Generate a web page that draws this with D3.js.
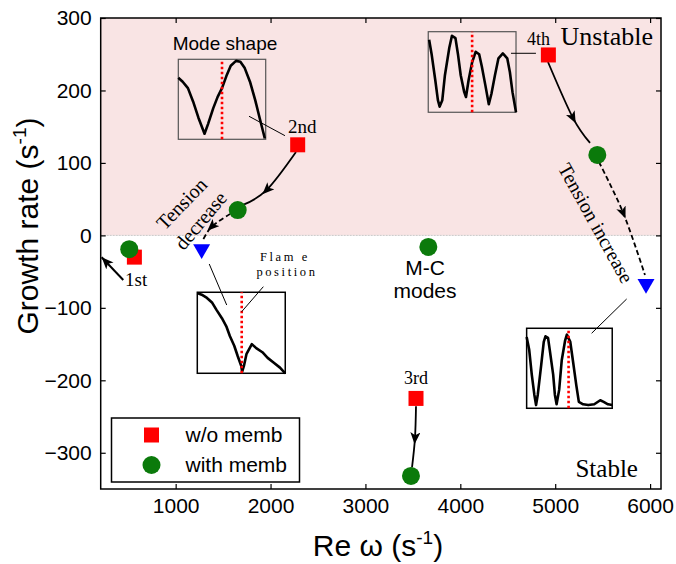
<!DOCTYPE html>
<html>
<head>
<meta charset="utf-8">
<script src="https://cdn.jsdelivr.net/npm/d3@7"></script>
<style>
  body { margin: 0; background: #fff; }
  svg { display: block; }
</style>
</head>
<body>
<svg width="676" height="564"></svg>
<script>
// axis ticks
const xTicks = [1000, 2000, 3000, 4000, 5000, 6000];
const yTicks = [-300, -200, -100, 0, 100, 200, 300];

// eigenvalues: Re omega (1/s), growth rate (1/s)
const woMemb = [
  { mode: '1st', re: 565, gr: -30 },
  { mode: '2nd', re: 2286, gr: 125 },
  { mode: '3rd', re: 3533, gr: -225 },
  { mode: '4th', re: 4928, gr: 249 }
];
const withMemb = [
  { re: 511, gr: -19 },
  { re: 1654, gr: 35 },
  { re: 3480, gr: -332 },
  { re: 5444, gr: 111 },
  { re: 3663, gr: -16 }   // M-C mode
];
const lowTension = [
  { re: 1274, gr: -19 },
  { re: 5957, gr: -67 }
];

// mode shape curves, normalised inside each inset box
const shape2nd = [[0,0.77],[0.05,0.72],[0.11,0.64],[0.17,0.47],[0.23,0.27],[0.30,0.07],[0.34,0.19],[0.40,0.39],[0.45,0.53],[0.50,0.64],[0.55,0.79],[0.60,0.92],[0.66,0.98],[0.71,0.97],[0.76,0.89],[0.82,0.72],[0.88,0.49],[0.93,0.27],[0.99,0.01]];
const shape4th = [[0.01,0.90],[0.04,0.71],[0.08,0.40],[0.11,0.15],[0.13,0.07],[0.16,0.15],[0.19,0.46],[0.24,0.80],[0.27,0.95],[0.31,0.92],[0.34,0.71],[0.37,0.46],[0.41,0.25],[0.43,0.19],[0.46,0.40],[0.50,0.62],[0.54,0.75],[0.58,0.72],[0.61,0.57],[0.65,0.34],[0.69,0.10],[0.72,0.23],[0.76,0.46],[0.80,0.67],[0.85,0.73],[0.90,0.67],[0.93,0.50],[0.96,0.25],[1.00,0.00]];
const shapeLow2nd = [[0,0.99],[0.05,0.97],[0.11,0.93],[0.17,0.87],[0.22,0.78],[0.28,0.68],[0.33,0.58],[0.37,0.46],[0.42,0.34],[0.46,0.21],[0.50,0.09],[0.51,0.02],[0.53,0.09],[0.56,0.24],[0.62,0.36],[0.67,0.31],[0.74,0.26],[0.80,0.19],[0.87,0.13],[0.94,0.07],[1.00,0.00]];
const shapeLow4th = [[0,0.89],[0.03,0.73],[0.06,0.42],[0.09,0.17],[0.11,0.04],[0.13,0.17],[0.17,0.54],[0.20,0.83],[0.22,0.90],[0.25,0.88],[0.27,0.73],[0.31,0.42],[0.33,0.17],[0.35,0.05],[0.38,0.23],[0.41,0.60],[0.45,0.85],[0.47,0.92],[0.51,0.83],[0.54,0.60],[0.58,0.29],[0.61,0.08],[0.66,0.05],[0.72,0.04],[0.79,0.05],[0.86,0.10],[0.90,0.08],[0.95,0.05],[1.00,0.04]];

const svg = d3.select('svg');
const W = 676, H = 564;
const margin = { left: 100.7, right: 15, top: 18, bottom: 75 };

const x = d3.scaleLinear().domain([210, 6115]).range([margin.left, W - margin.right]);
const y = d3.scaleLinear().domain([-350, 300]).range([H - margin.bottom, margin.top]);

const serif = '"Liberation Serif", "Times New Roman", serif';
const sans = '"Liberation Sans", Arial, sans-serif';

// unstable region
svg.append('rect')
  .attr('x', x.range()[0]).attr('y', y(300))
  .attr('width', x.range()[1] - x.range()[0]).attr('height', y(0) - y(300))
  .attr('fill', '#f9e4e4');
svg.append('line')
  .attr('x1', x.range()[0]).attr('x2', x.range()[1])
  .attr('y1', y(0)).attr('y2', y(0))
  .attr('stroke', '#c8c8c8').attr('stroke-width', 1).attr('stroke-dasharray', '2,1');

// arrow markers
const defs = svg.append('defs');
defs.append('marker').attr('id', 'headMid')
  .attr('viewBox', '0 0 12 10').attr('refX', 6).attr('refY', 5)
  .attr('markerWidth', 12).attr('markerHeight', 10)
  .attr('markerUnits', 'userSpaceOnUse').attr('orient', 'auto')
  .append('path').attr('d', 'M0,0 L12,5 L0,10 L3,5 Z').attr('fill', '#000');
defs.append('marker').attr('id', 'headEnd')
  .attr('viewBox', '0 0 12 10').attr('refX', 12).attr('refY', 5)
  .attr('markerWidth', 12).attr('markerHeight', 10)
  .attr('markerUnits', 'userSpaceOnUse').attr('orient', 'auto')
  .append('path').attr('d', 'M0,0 L12,5 L0,10 L3,5 Z').attr('fill', '#000');

// insets with mode shapes
const insets = [
  { re0: 1028, re1: 1949, gr0: 132.6, gr1: 243.0, pts: shape2nd, flame: 0.50, box: '#555', bw: 1.2 },
  { re0: 3662, re1: 4587, gr0: 169.9, gr1: 281.1, pts: shape4th, flame: 0.50, box: '#555', bw: 1.2 },
  { re0: 1228, re1: 2155, gr0: -190.3, gr1: -78.5, pts: shapeLow2nd, flame: 0.505, box: '#000', bw: 1.5 },
  { re0: 4699, re1: 5601, gr0: -238.6, gr1: -128.2, pts: shapeLow4th, flame: 0.49, box: '#000', bw: 1.5 }
];
insets.forEach(ins => {
  const sx = d3.scaleLinear().domain([0, 1]).range([x(ins.re0), x(ins.re1)]);
  const sy = d3.scaleLinear().domain([0, 1]).range([y(ins.gr0), y(ins.gr1)]);
  const g = svg.append('g');
  g.append('rect')
    .attr('x', sx(0)).attr('y', sy(1))
    .attr('width', sx(1) - sx(0)).attr('height', sy(0) - sy(1))
    .attr('fill', 'none').attr('stroke', ins.box).attr('stroke-width', ins.bw);
  g.append('path')
    .attr('d', d3.line().x(d => sx(d[0])).y(d => sy(d[1]))(ins.pts))
    .attr('fill', 'none').attr('stroke', '#000').attr('stroke-width', 2.6)
    .attr('stroke-linejoin', 'round');
  g.append('line')
    .attr('x1', sx(ins.flame)).attr('x2', sx(ins.flame))
    .attr('y1', sy(0)).attr('y2', sy(1))
    .attr('stroke', '#ff0000').attr('stroke-width', 2.6).attr('stroke-dasharray', '2.5,2.5');
});

// leader lines
const leaders = [
  [[1773, 164.4], [2152, 137.6]],
  [[4534, 251.3], [4797, 251.3]],
  [[1354, -39.5], [1538, -96.1]],
  [[1924, -70.8], [1696, -105.3]],
  [[5384, -135.1], [5753, -87.8]]
];
svg.append('g').selectAll('line').data(leaders).join('line')
  .attr('x1', d => x(d[0][0])).attr('y1', d => y(d[0][1]))
  .attr('x2', d => x(d[1][0])).attr('y2', d => y(d[1][1]))
  .attr('stroke', '#000').attr('stroke-width', 1);

// tension arrows
const arrows = [
  { pts: [[2268, 115.1], [1959, 62.7], [1710, 42]], dash: null },
  { pts: [[1573, 29.5], [1380, 12.0], [1288, -6.3]], dash: '5,3' },
  { pts: [[4924, 239.3], [5187, 162.1], [5367, 127.6]], dash: null },
  { pts: [[5461, 101.3], [5717, 30.9], [5946, -54.6]], dash: '5,3' },
  { pts: [[3533, -235.9], [3522, -280.1], [3491, -320.1]], dash: null }
];
const arrowLine = d3.line().x(d => x(d[0])).y(d => y(d[1])).curve(d3.curveCardinal);
svg.append('g').selectAll('path').data(arrows).join('path')
  .attr('d', d => arrowLine(d.pts))
  .attr('fill', 'none').attr('stroke', '#000').attr('stroke-width', 1.8)
  .attr('stroke-dasharray', d => d.dash)
  .attr('marker-mid', 'url(#headMid)');
svg.append('path')
  .attr('d', d3.line().x(d => x(d[0])).y(d => y(d[1]))([[448, -61.6], [220, -30.2]]))
  .attr('fill', 'none').attr('stroke', '#000').attr('stroke-width', 2)
  .attr('marker-end', 'url(#headEnd)');

// markers
const sq = 15;
svg.append('g').selectAll('rect').data(woMemb).join('rect')
  .attr('x', d => x(d.re) - sq / 2).attr('y', d => y(d.gr) - sq / 2)
  .attr('width', sq).attr('height', sq).attr('fill', '#ff0000');
svg.append('g').selectAll('circle').data(withMemb).join('circle')
  .attr('cx', d => x(d.re)).attr('cy', d => y(d.gr)).attr('r', 9)
  .attr('fill', '#0b7a0b');
svg.append('g').selectAll('path').data(lowTension).join('path')
  .attr('d', d3.symbol(d3.symbolTriangle, 125))
  .attr('transform', d => `translate(${x(d.re)},${y(d.gr)}) rotate(180)`)
  .attr('fill', '#0000ff');

// annotations
const notes = [
  { t: 'Mode shape', re: 1520, gr: 255.9, font: sans, size: 19, anchor: 'middle' },
  { t: '2nd', re: 2184, gr: 141.3, font: serif, size: 19, anchor: 'start' },
  { t: '4th', re: 4703, gr: 262.8, font: serif, size: 18, anchor: 'start' },
  { t: 'Unstable', re: 6030, gr: 262.8, font: serif, size: 26, anchor: 'end' },
  { t: 'Stable', re: 5872, gr: -333.4, font: serif, size: 25, anchor: 'end' },
  { t: '1st', re: 466, gr: -69.8, font: serif, size: 19, anchor: 'start' },
  { t: '3rd', re: 3533, gr: -205.2, font: serif, size: 18, anchor: 'middle' },
  { t: 'M-C', re: 3628, gr: -54.7, font: sans, size: 21, anchor: 'middle' },
  { t: 'modes', re: 3628, gr: -86.4, font: sans, size: 21, anchor: 'middle' },
  { t: 'Flam e', re: 2152, gr: -35.5, font: serif, size: 12.5, anchor: 'middle', ls: 2.6 },
  { t: 'position', re: 2173, gr: -55.7, font: serif, size: 12.5, anchor: 'middle', ls: 2.6 },
  { t: 'Tension', re: 1062, gr: 44, font: serif, size: 20, anchor: 'middle', rot: -46, mid: true },
  { t: 'decrease', re: 1262, gr: 20.6, font: serif, size: 20, anchor: 'middle', rot: -50, mid: true },
  { t: 'Tension increase', re: 5430, gr: 17.1, font: serif, size: 20, anchor: 'middle', rot: 61, mid: true }
];
svg.append('g').selectAll('text').data(notes).join('text')
  .attr('transform', d => `translate(${x(d.re)},${y(d.gr)})` + (d.rot ? ` rotate(${d.rot})` : ''))
  .attr('text-anchor', d => d.anchor)
  .attr('dominant-baseline', d => d.mid ? 'central' : null)
  .attr('font-family', d => d.font)
  .attr('font-size', d => d.size)
  .attr('letter-spacing', d => d.ls || null)
  .attr('fill', '#000')
  .text(d => d.t);

// axes, ticks inward on all four sides
const fmt = d3.format('d');
svg.append('g').attr('transform', `translate(0,${y.range()[0]})`)
  .call(d3.axisBottom(x).tickValues(xTicks).tickFormat(fmt).tickSizeInner(-5).tickSizeOuter(0).tickPadding(9));
svg.append('g').attr('transform', `translate(${x.range()[0]},0)`)
  .call(d3.axisLeft(y).tickValues(yTicks).tickFormat(fmt).tickSizeInner(-5).tickSizeOuter(0).tickPadding(9));
svg.append('g').attr('transform', `translate(0,${y.range()[1]})`)
  .call(d3.axisTop(x).tickValues(xTicks).tickFormat('').tickSizeInner(-5).tickSizeOuter(0));
svg.append('g').attr('transform', `translate(${x.range()[1]},0)`)
  .call(d3.axisRight(y).tickValues(yTicks).tickFormat('').tickSizeInner(-5).tickSizeOuter(0));
svg.selectAll('.domain').remove();
svg.selectAll('.tick line').attr('stroke-width', 1.2);
svg.selectAll('.tick text').attr('font-family', sans).attr('font-size', 21).attr('fill', '#000');

svg.append('rect')
  .attr('x', x.range()[0]).attr('y', y.range()[1])
  .attr('width', x.range()[1] - x.range()[0]).attr('height', y.range()[0] - y.range()[1])
  .attr('fill', 'none').attr('stroke', '#000').attr('stroke-width', 1.5);

// legend
const legendItems = [
  { label: 'w/o memb', kind: 'square', color: '#ff0000' },
  { label: 'with memb', kind: 'circle', color: '#0b7a0b' }
];
const lg = svg.append('g').attr('transform', 'translate(111.5,418)');
lg.append('rect').attr('width', 188).attr('height', 64)
  .attr('fill', '#fff').attr('stroke', '#000').attr('stroke-width', 1.5);
legendItems.forEach((it, i) => {
  const row = lg.append('g').attr('transform', `translate(40,${17 + i * 30})`);
  if (it.kind === 'square') {
    row.append('rect').attr('x', -sq / 2).attr('y', -sq / 2).attr('width', sq).attr('height', sq).attr('fill', it.color);
  } else {
    row.append('circle').attr('r', 9).attr('fill', it.color);
  }
  row.append('text').attr('x', 34).attr('dy', '0.35em')
    .attr('font-family', sans).attr('font-size', 21).text(it.label);
});

// axis titles
const yt = svg.append('text')
  .attr('transform', `translate(38,226) rotate(-90)`)
  .attr('text-anchor', 'middle').attr('font-family', sans).attr('font-size', 30);
yt.append('tspan').text('Growth rate (s');
yt.append('tspan').attr('font-size', 19).attr('dy', -12).text('-1');
yt.append('tspan').attr('dy', 12).text(')');

const xt = svg.append('text')
  .attr('transform', `translate(378,556)`)
  .attr('text-anchor', 'middle').attr('font-family', sans).attr('font-size', 30);
xt.append('tspan').text('Re ω (s');
xt.append('tspan').attr('font-size', 19).attr('dy', -12).text('-1');
xt.append('tspan').attr('dy', 12).text(')');
</script>
</body>
</html>
